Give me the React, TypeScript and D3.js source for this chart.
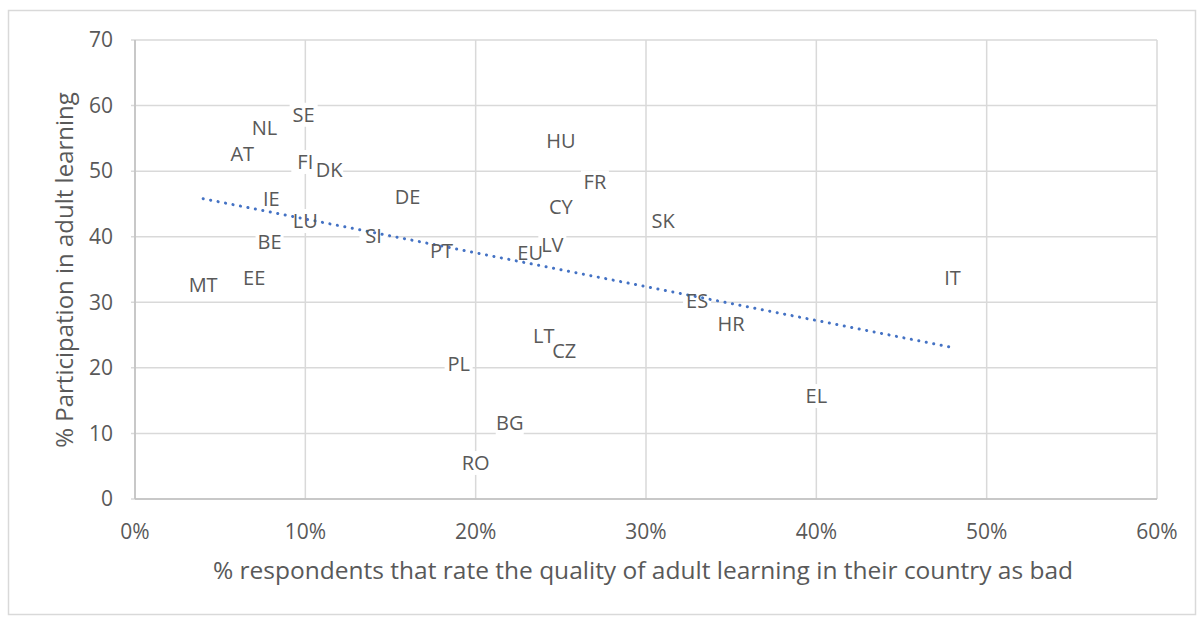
import React from "react";
import * as d3 from "d3";

const countries = ["SE","NL","AT","FI","DK","IE","DE","LU","SI","BE","MT","EE","HU","FR","CY","SK","PT","EU","LV","IT","ES","HR","LT","CZ","PL","EL","BG","RO"];
const badQuality = [9.9,7.6,6.3,10.0,11.4,8.0,16.0,10.0,14.0,7.9,4.0,7.0,25.0,27.0,25.0,31.0,18.0,23.2,24.5,48.0,33.0,35.0,24.0,25.2,19.0,40.0,22.0,20.0];
const participation = [58.6,56.6,52.6,51.4,50.2,45.8,46.1,42.4,40.1,39.2,32.6,33.7,54.6,48.3,44.5,42.5,37.8,37.5,38.7,33.7,30.2,26.7,24.9,22.6,20.6,15.7,11.6,5.5];
const trendX = [4, 48];
const trendY = [45.8, 23.1];
const xTicks = [0,10,20,30,40,50,60];
const yTicks = [0,10,20,30,40,50,60,70];

const W = 1203, H = 620;
const M = { left: 135, right: 1157, top: 40, bottom: 499 };
const FONT = "'Open Sans', 'Noto Sans', sans-serif";
const TXT = "#595959";
const GRID = "#d9d9d9";

export default function App() {
  const x = d3.scaleLinear().domain([0, 60]).range([M.left, M.right]);
  const y = d3.scaleLinear().domain([0, 70]).range([M.bottom, M.top]);
  const trend = d3.line<number>().x((_, i) => x(trendX[i])).y((_, i) => y(trendY[i]));
  const fs = 20;
  const labels = countries.map((c, i) => {
    const w = c.length * 13 + 2;
    return { c, cx: x(badQuality[i]), cy: y(participation[i]), w };
  });
  return (
    <svg width={W} height={H} style={{ position: "absolute", left: 0, top: 0 }}>
      <rect x={0} y={0} width={W} height={H} fill="#fff" />
      <rect x={8.5} y={10.5} width={1187} height={604} fill="#fff" stroke={GRID} strokeWidth={1.5} />
      {yTicks.map(t => (
        <line key={"gy" + t} x1={M.left - 4} x2={M.right} y1={y(t)} y2={y(t)} stroke={GRID} strokeWidth={1.5} />
      ))}
      {xTicks.map(t => (
        <line key={"gx" + t} x1={x(t)} x2={x(t)} y1={M.top} y2={M.bottom} stroke={GRID} strokeWidth={1.5} />
      ))}
      <line x1={M.left} x2={M.left} y1={M.top} y2={M.bottom} stroke={"#bfbfbf"} strokeWidth={1.5} />
      <line x1={M.left} x2={M.right} y1={M.bottom} y2={M.bottom} stroke={"#bfbfbf"} strokeWidth={1.5} />
      {yTicks.map(t => (
        <text key={"ty" + t} x={113} y={y(t)} dy="0.35em" textAnchor="end" fontFamily={FONT} fontSize={21} fill={TXT}>{t}</text>
      ))}
      {xTicks.map(t => (
        <text key={"tx" + t} x={x(t)} y={532} dy="0.35em" textAnchor="middle" fontFamily={FONT} fontSize={21} fill={TXT}>{t + "%"}</text>
      ))}
      {labels.map(l => (
        <rect key={"r" + l.c} x={l.cx - l.w / 2} y={l.cy - 12} width={l.w} height={24} fill="#fff" />
      ))}
      <path d={trend([0, 1]) || ""} fill="none" stroke="#4472c4" strokeWidth={3} strokeDasharray="0.1 7.5" strokeLinecap="round" />
      {labels.map(l => (
        <text key={"t" + l.c} x={l.cx} y={l.cy} dy="0.36em" textAnchor="middle" fontFamily={FONT} fontSize={fs} fill={TXT}>{l.c}</text>
      ))}
      <text x={643} y={570} dy="0.35em" textAnchor="middle" fontFamily={FONT} fontSize={24.5} fill={TXT}>% respondents that rate the quality of adult learning in their country as bad</text>
      <text transform={`translate(65,270) rotate(-90)`} dy="0.35em" textAnchor="middle" fontFamily={FONT} fontSize={24} fill={TXT}>% Participation in adult learning</text>
    </svg>
  );
}
